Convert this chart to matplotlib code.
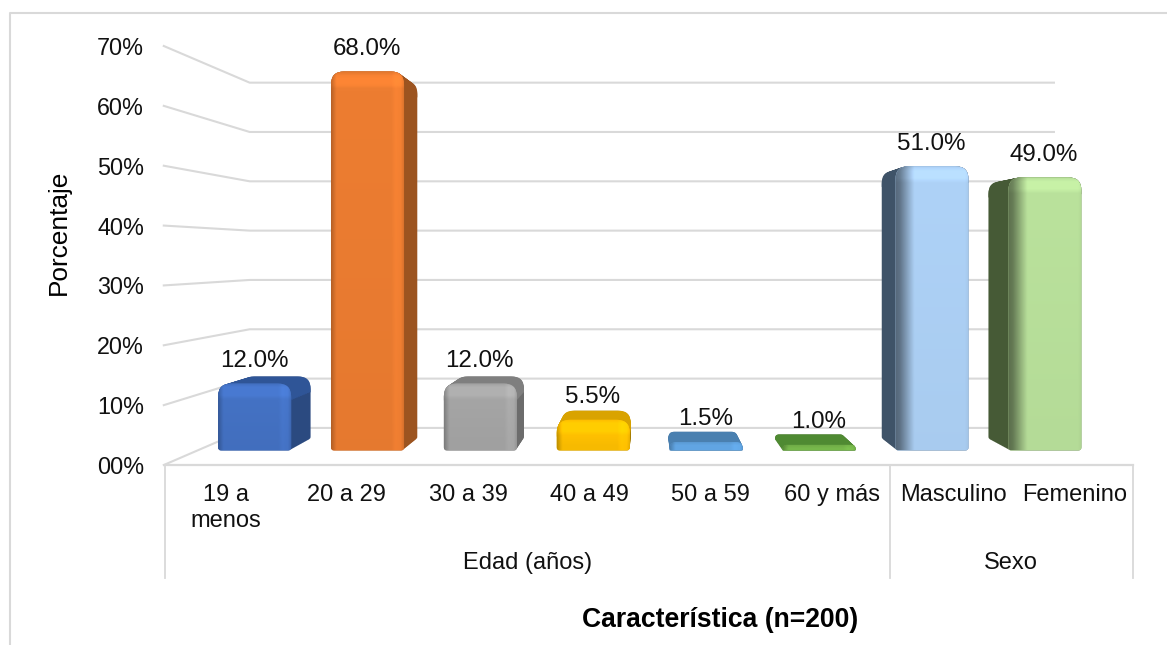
import numpy as np
from matplotlib import pyplot as plt
from matplotlib.lines import Line2D
from matplotlib.patches import PathPatch
from matplotlib.path import Path
from matplotlib.colors import to_rgb

categories = ['19 a\nmenos', '20 a 29', '30 a 39', '40 a 49', '50 a 59', '60 y más', 'Masculino', 'Femenino']
values = [12.0, 68.0, 12.0, 5.5, 1.5, 1.0, 51.0, 49.0]
front_colors = ['#4472c4', '#ed7d31', '#a5a5a5', '#ffc000', '#5b9bd5', '#70ad47', '#aed2f7', '#bae29c']
side_colors = ['#2b4a80', '#9c5420', '#6c6c6c', '#a67d00', '#3b6c98', '#4a7530', '#3f5368', '#465a36']
top_colors = ['#2f5597', '#9c5420', '#7f7f7f', '#d9a300', '#4a80b0', '#4f8a32', '#3f5368', '#465a36']
groups = ['Edad (años)', 'Sexo']
group_edges = [-0.5, 5.48, 7.48]
y_ticks = [0, 10, 20, 30, 40, 50, 60, 70]
y_labels = ['00%', '10%', '20%', '30%', '40%', '50%', '60%', '70%']

W, H = 1167, 645
GRID = '#d9d9d9'
plt.rcParams['font.family'] = ['Liberation Sans', 'DejaVu Sans']
plt.rcParams['font.size'] = 16.8

# perspective: everything shrinks towards a vanishing point
VX, VY = 3.467, 35.2
K_WALL, K_FRONT, K_BACK = 0.824, 0.931, 0.88
BAR_W = 0.647
PX_X, PX_Y = 121.25, 5.986


def project(x, y, k):
	return VX + k * (x - VX), VY + k * (y - VY)


def bar_path(x0, x1, y0, y1, r_top=13, r_bot=3):
	# rounded box, radii given in pixels
	h = (y1 - y0) * PX_Y
	r_top = min(r_top, h * 0.75)
	r_bot = min(r_bot, h * 0.2)
	rx, ry = r_top / PX_X, r_top / PX_Y
	bx, by = r_bot / PX_X, r_bot / PX_Y
	verts = [(x0 + bx, y0), (x1 - bx, y0), (x1, y0), (x1, y0 + by), (x1, y1 - ry), (x1, y1), (x1 - rx, y1),
			 (x0 + rx, y1), (x0, y1), (x0, y1 - ry), (x0, y0 + by), (x0, y0), (x0 + bx, y0), (x0 + bx, y0)]
	codes = [Path.MOVETO, Path.LINETO, Path.CURVE3, Path.CURVE3, Path.LINETO, Path.CURVE3, Path.CURVE3,
			 Path.LINETO, Path.CURVE3, Path.CURVE3, Path.LINETO, Path.CURVE3, Path.CURVE3, Path.CLOSEPOLY]
	return Path(verts, codes)


def shade(color, strong_left, height):
	# horizontal and vertical light of the bevelled front face
	c = np.array(to_rgb(color))
	t = np.linspace(0, 1, 80)
	if strong_left:
		f = np.interp(t, [0, 0.06, 0.26, 0.95, 1], [0.5, 0.55, 1.0, 1.0, 0.96])
	else:
		f = np.interp(t, [0, 0.07, 0.82, 0.88, 0.95, 1], [0.78, 1.0, 1.0, 1.05, 1.03, 0.9])
	s = np.linspace(0, height, 120)
	g = np.interp(s, [0, 4, 12, 16, max(height - 4, 17), max(height, 18)], [0.97, 1.07, 1.07, 1.0, 0.97, 0.97])
	img = np.outer(g, f)[:, :, None] * c
	return np.clip(img, 0, 1)


fig = plt.figure(figsize=(W / 100, H / 100), dpi=100, facecolor='white')
ax = fig.add_axes([165 / W, 1 - 465 / H, 970 / W, 419 / H])
ax.set_xlim(-0.5, 7.5)
ax.set_ylim(0, 70)
for s in ax.spines.values():
	s.set_visible(False)

# walls
for t in y_ticks:
	x_back, y_back = project(-0.5, t, K_WALL)
	x_end, _ = project(7.55, t, K_WALL)
	ax.plot([-0.51, x_back, x_end], [t, y_back, y_back], color=GRID, lw=1.5, zorder=1, clip_on=False)

# front edge and group separators
ax.plot([-0.5, 7.48], [0, 0], color=GRID, lw=1.6, zorder=2, clip_on=False)
for e in group_edges:
	ax.plot([e, e], [0, -18.8], color=GRID, lw=1.3, zorder=2, clip_on=False)

# bars
for i, v in enumerate(values):
	x0, x1 = i - BAR_W / 2, i + BAR_W / 2
	for k in np.linspace(K_BACK, K_FRONT, 12):
		xa, ya = project(x0, 0, k)
		xb, yb = project(x1, v, k)
		ax.add_patch(PathPatch(bar_path(xa, xb, ya, yb), fc=side_colors[i], ec='none', zorder=3, clip_on=False))
	for k in np.linspace(K_BACK, K_FRONT, 12):
		xa, ya = project(x0, max(v - 18 / PX_Y, 0), k)
		xb, yb = project(x1, v, k)
		ax.add_patch(PathPatch(bar_path(xa, xb, ya, yb, r_bot=0), fc=top_colors[i], ec='none', zorder=3, clip_on=False))
	xa, ya = project(x0, 0, K_FRONT)
	xb, yb = project(x1, v, K_FRONT)
	face = PathPatch(bar_path(xa, xb, ya, yb), fc=front_colors[i], ec='none', zorder=4, clip_on=False)
	ax.add_patch(face)
	im = ax.imshow(shade(front_colors[i], i >= 6, (yb - ya) * PX_Y), extent=(xa, xb, ya, yb), aspect='auto',
				   zorder=4.1, interpolation='bilinear')
	im.set_clip_path(face)
	lx, ly = project(i, v, K_FRONT)
	ax.annotate(f'{v:.1f}%', (lx, ly), xytext=(-0.5, 16.3), textcoords='offset points', ha='center', va='center',
				fontsize=17.4, color='#111111', zorder=6, annotation_clip=False)

ax.set_xlim(-0.5, 7.5)
ax.set_ylim(0, 70)

ax.set_xticks(range(len(categories)), categories, fontsize=17)
ax.set_yticks(y_ticks, y_labels)
ax.tick_params(axis='both', length=0, colors='#111111')
ax.tick_params(axis='x', pad=14)
ax.tick_params(axis='y', pad=15)
ax.set_ylabel('Porcentaje', fontsize=18.9, color='black')
ax.yaxis.set_label_coords(-94 / 970, 0.556)

for name, a, b in zip(groups, group_edges[:-1], group_edges[1:]):
	ax.text((a + b) / 2, -16.4, name, ha='center', va='center', fontsize=17, color='#111111', clip_on=False)
ax.text(4.08, -25.9, 'Característica (n=200)', ha='center', va='center', fontsize=19.1, fontweight='bold',
		color='black', clip_on=False)

# picture frame
fig.add_artist(Line2D([9.5 / W, 9.5 / W, 1], [0, 1 - 12.5 / H, 1 - 12.5 / H], color=GRID, lw=1.5))

fig.savefig('out.png', dpi=100)
